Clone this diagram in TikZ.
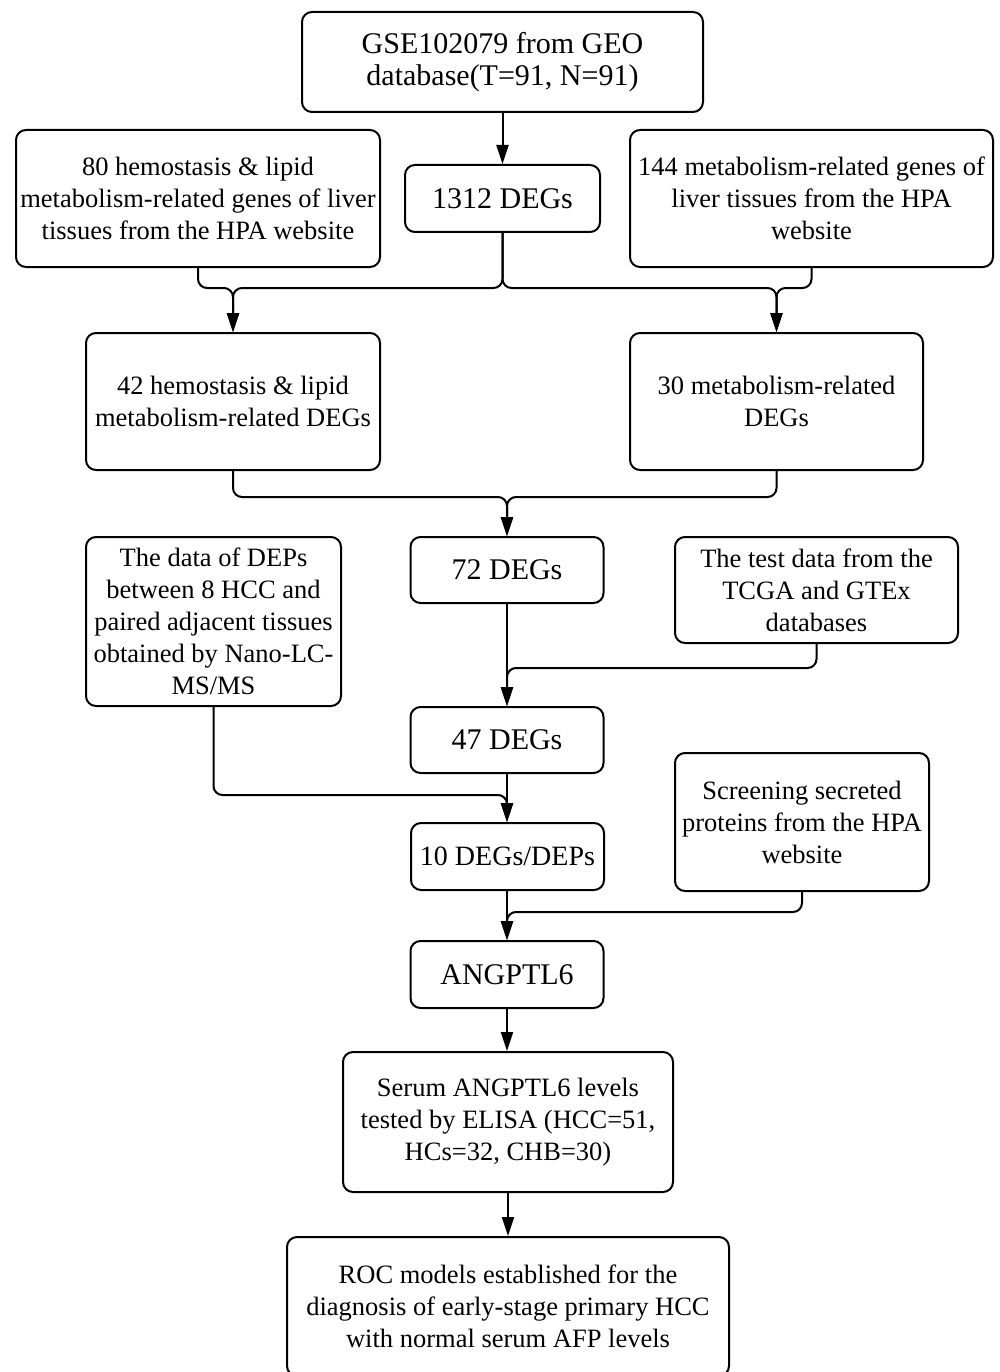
\documentclass[tikz,border=0pt]{standalone}
\usepackage{fontspec}
\setmainfont{Liberation Serif}
\usetikzlibrary{arrows.meta}
\begin{document}
\begin{tikzpicture}[x=1pt,y=-1pt,
  box/.style={draw, line width=2pt, rounded corners=10pt, align=center, inner sep=0pt,
    font=\fontsize{26.5}{32}\selectfont},
  big/.style={font=\fontsize{30}{32}\selectfont},
  mid/.style={font=\fontsize{28}{32}\selectfont},
  conn/.style={line width=2pt, rounded corners=9pt},
  arr/.style={conn, -{Triangle[length=19pt,width=12pt]}}]
\useasboundingbox (0,0) rectangle (999,1372);
\fill[white] (0,0) rectangle (999,1372);
\node[box, big, minimum width=401, minimum height=100] (gse) at (502.5,62) {GSE102079 from GEO\\database(T=91, N=91)};
\node[box, minimum width=364, minimum height=137] (b80) at (198,198.5) {80 hemostasis \& lipid\\metabolism-related genes of liver\\tissues from the HPA website};
\node[box, big, minimum width=195, minimum height=67] (d1312) at (502.5,198.5) {1312 DEGs};
\node[box, minimum width=363, minimum height=137] (b144) at (811.5,198.5) {144 metabolism-related genes of\\liver tissues from the HPA\\website};
\node[box, minimum width=294, minimum height=137] (b42) at (233,401.5) {42 hemostasis \& lipid\\metabolism-related DEGs};
\node[box, minimum width=293, minimum height=137] (b30) at (776.5,401.5) {30 metabolism-related\\DEGs};
\node[box, big, minimum width=193, minimum height=66] (d72) at (507,570) {72 DEGs};
\node[box, minimum width=255, minimum height=169] (dep) at (213.5,621.5) {The data of DEPs\\between 8 HCC and\\paired adjacent tissues\\obtained by Nano-LC-\\MS/MS};
\node[box, minimum width=283, minimum height=106] (tcga) at (816.5,590) {The test data from the\\TCGA and GTEx\\databases};
\node[box, big, minimum width=193, minimum height=66] (d47) at (507,740) {47 DEGs};
\node[box, minimum width=254, minimum height=138] (scr) at (802,822) {Screening secreted\\proteins from the HPA\\website};
\node[box, mid, minimum width=193, minimum height=67] (d10) at (507.5,856.5) {10 DEGs/DEPs};
\node[box, big, minimum width=193, minimum height=67] (ang) at (507,974.5) {ANGPTL6};
\node[box, minimum width=330, minimum height=140] (ser) at (508,1122) {Serum ANGPTL6 levels\\tested by ELISA (HCC=51,\\HCs=32, CHB=30)};
\node[box, minimum width=442, minimum height=139] (roc) at (508,1306.5) {ROC models established for the\\diagnosis of early-stage primary HCC\\with normal serum AFP levels};
\coordinate (j1) at (0,288);
\coordinate (j2) at (0,497);
\coordinate (j3) at (0,668);
\coordinate (j4) at (0,795);
\coordinate (j5) at (0,912);
\draw[arr] (gse.south) -- (gse.south |- d1312.north);
\draw[arr] (b80.south) -- (b80.south |- j1) -| (b42.north);
\draw[arr] (d1312.south) -- (d1312.south |- j1) -| (b42.north);
\draw[arr] (d1312.south) -- (d1312.south |- j1) -| (b30.north);
\draw[arr] (b144.south) -- (b144.south |- j1) -| (b30.north);
\draw[arr] (b42.south) -- (b42.south |- j2) -| (d72.north);
\draw[arr] (b30.south) -- (b30.south |- j2) -| (d72.north);
\draw[arr] (d72.south) -- (d47.north);
\draw[arr] (tcga.south) -- (tcga.south |- j3) -| (d47.north);
\draw[arr] (d47.south) -- (d47.south |- d10.north);
\draw[arr] (dep.south) -- (dep.south |- j4) -| (d47.south |- d10.north);
\draw[arr] (d47.south |- d10.south) -- (d47.south |- ang.north);
\draw[arr] (scr.south) -- (scr.south |- j5) -| (ang.north);
\draw[arr] (ang.south) -- (ang.south |- ser.north);
\draw[arr] (ser.south) -- (roc.north);
\end{tikzpicture}
\end{document}
